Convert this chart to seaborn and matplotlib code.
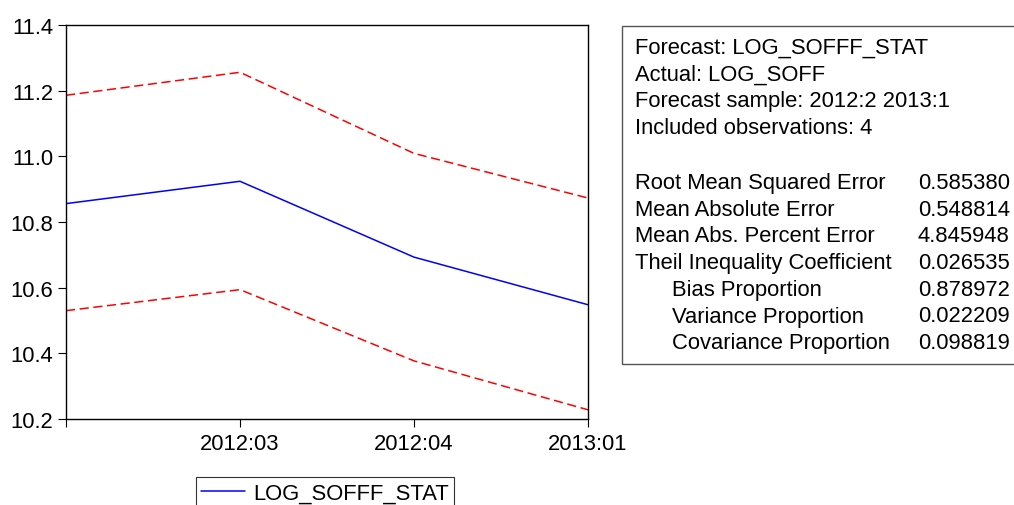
import matplotlib
matplotlib.use("Agg")
import matplotlib.pyplot as plt
import seaborn as sns
import pandas as pd
from matplotlib.patches import Rectangle

# ---- data ----
periods = ["2012:02", "2012:03", "2012:04", "2013:01"]
tick_labels = ["", "2012:03", "2012:04", "2013:01"]
forecast = [10.856, 10.924, 10.693, 10.548]
upper_band = [11.186, 11.256, 11.009, 10.873]
lower_band = [10.530, 10.594, 10.377, 10.228]

header_lines = [
    "Forecast: LOG_SOFFF_STAT",
    "Actual: LOG_SOFF",
    "Forecast sample: 2012:2 2013:1",
    "Included observations: 4",
]
stat_names = [
    "Root Mean Squared Error",
    "Mean Absolute Error",
    "Mean Abs. Percent Error",
    "Theil Inequality Coefficient",
    "Bias Proportion",
    "Variance Proportion",
    "Covariance Proportion",
]
stat_indent = [False, False, False, False, True, True, True]
stat_values = ["0.585380", "0.548814", "4.845948", "0.026535",
               "0.878972", "0.022209", "0.098819"]

# ---- figure ----
sns.set_theme(style="white")
plt.rcParams["font.family"] = ["Liberation Sans", "DejaVu Sans"]
plt.rcParams["text.color"] = "black"

FS = 15.8
W, H = 1014, 506
fig = plt.figure(figsize=(W / 100, H / 100), dpi=100)
ax = fig.add_axes([66 / W, 1 - 420 / H, (588 - 66) / W, (420 - 26) / H])

df = pd.DataFrame({"x": range(len(periods)), "f": forecast,
                   "u": upper_band, "l": lower_band})

sns.lineplot(data=df, x="x", y="f", ax=ax, color="#0000ff", linewidth=1.1,
             label="LOG_SOFFF_STAT")
sns.lineplot(data=df, x="x", y="u", ax=ax, color="#ff0000", linewidth=1.1,
             legend=False)
sns.lineplot(data=df, x="x", y="l", ax=ax, color="#ff0000", linewidth=1.1,
             legend=False)
for ln in ax.lines[1:]:
    ln.set_linestyle((0, (6, 3)))

ax.set_xlim(0, len(periods) - 1)
ax.set_ylim(10.2, 11.4)
ax.set_xticks(range(len(periods)))
ax.set_xticklabels(tick_labels)
ax.set_yticks([10.2, 10.4, 10.6, 10.8, 11.0, 11.2, 11.4])
ax.set_yticklabels(["10.2", "10.4", "10.6", "10.8", "11.0", "11.2", "11.4"])
ax.set_xlabel("")
ax.set_ylabel("")
for s in ax.spines.values():
    s.set_color("black")
    s.set_linewidth(1.0)
ax.tick_params(axis="both", which="both", direction="out", length=6,
               width=0.8, color="black", labelsize=FS, labelcolor="black",
               bottom=True, left=True, top=False, right=False)
ax.tick_params(axis="y", pad=3)
ax.tick_params(axis="x", pad=4)

leg = ax.legend(loc="upper left", bbox_to_anchor=(196 / W, 1 - 478 / H),
                bbox_transform=fig.transFigure, frameon=True, fancybox=False,
                fontsize=FS, handlelength=2.0, borderpad=0.25,
                handletextpad=0.35, borderaxespad=0)
leg.get_frame().set_edgecolor("black")
leg.get_frame().set_linewidth(0.8)
for t in leg.get_texts():
    t.set_color("black")

# ---- statistics box ----
box = Rectangle((622 / W, 1 - 365 / H), 420 / W, (365 - 27) / H,
                transform=fig.transFigure, fill=False, edgecolor="#555555",
                linewidth=1.0, clip_on=False)
fig.add_artist(box)

y0 = 48.5
dy = 26.7
for i, t in enumerate(header_lines):
    fig.text(635 / W, 1 - (y0 + i * dy) / H, t, fontsize=FS, va="center",
             ha="left", color="black")
ys = 183.5
for i, (n, ind, v) in enumerate(zip(stat_names, stat_indent, stat_values)):
    yy = 1 - (ys + i * dy) / H
    fig.text((672 if ind else 635) / W, yy, n, fontsize=FS, va="center",
             ha="left", color="black")
    fig.text(918 / W, yy, v, fontsize=FS, va="center", ha="left",
             color="black")

fig.savefig("out.png", dpi=100)
